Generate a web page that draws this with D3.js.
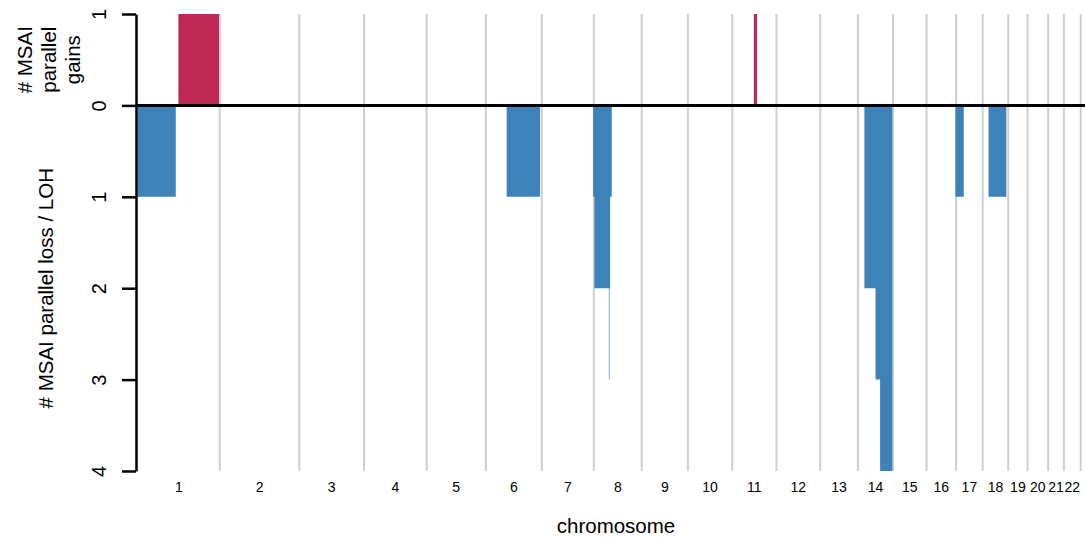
<!DOCTYPE html>
<html>
<head>
<meta charset="utf-8">
<script src="https://cdn.jsdelivr.net/npm/d3@7"></script>
<style>
  html, body { margin: 0; padding: 0; background: #ffffff; }
  svg { display: block; font-family: "Liberation Sans", Arial, Helvetica, sans-serif; }
</style>
</head>
<body>
<svg id="chart" width="1085" height="538"></svg>
<script>
// Chromosome names and lengths (Mb, hg19)
const chromosomes = ["1","2","3","4","5","6","7","8","9","10","11","12","13","14","15","16","17","18","19","20","21","22"];
const chromLengthsMb = [249.25, 243.2, 198.0, 191.15, 180.9, 171.1, 159.1, 146.4, 141.2, 135.5, 135.0, 133.9, 115.2, 107.3, 102.5, 90.4, 81.2, 78.1, 59.1, 63.0, 48.1, 51.3];

// Parallel gains: chromosome, segment start/end (Mb within chromosome), count
const gainChrom = ["1", "11"];
const gainStart = [125, 68];
const gainEnd   = [249.25, 78];
const gainCount = [1, 1];

// Parallel loss / LOH segments
const lossChrom = ["1", "6", "8", "8", "8", "8", "8", "14", "14", "14", "17", "18"];
const lossStart = [0,   66,  0,   4,   48,  50,  52,  22,   56,   70,   0,    20];
const lossEnd   = [117, 168, 4,   48,  50,  52,  57,  56,   70,   107.3, 25.5, 74.5];
const lossCount = [1,   1,   1,   2,   3,   2,   1,   2,    3,    4,    1,    1];

// Y axis ticks (gains positive, losses negative) and their labels
const yTickValues = [1, 0, -1, -2, -3, -4];
const yTickLabels = ["1", "0", "1", "2", "3", "4"];

const W = 1085, H = 538;
const plotLeft = 137.5, plotRight = 1080, plotTop = 14, plotBottom = 471;
const gainColor = "#be2a55";
const lossColor = "#3d82b9";

const svg = d3.select("#chart");

const offsets = [0, ...d3.cumsum(chromLengthsMb)];
const total = offsets[offsets.length - 1];
const chromIndex = new Map(chromosomes.map((c, i) => [c, i]));
const genomePos = (chr, mb) => offsets[chromIndex.get(chr)] + mb;

const x = d3.scaleLinear().domain([0, total]).range([plotLeft, plotRight]);
const y = d3.scaleLinear().domain([1, -4]).range([plotTop, plotBottom]);

// Chromosome boundary lines
svg.append("g")
  .selectAll("line")
  .data(offsets.slice(1))
  .join("line")
  .attr("x1", d => x(d) + 0.7).attr("x2", d => x(d) + 0.7)
  .attr("y1", y(1)).attr("y2", y(-4))
  .attr("stroke", "#cfcfcf")
  .attr("stroke-width", 2);

// Build step-shaped areas, one per chromosome, from segment arrays
function stepGroups(chroms, starts, ends, counts, sign) {
  const groups = d3.group(d3.range(chroms.length), i => chroms[i]);
  const out = [];
  for (const [chr, idx] of groups) {
    const pts = [];
    idx.sort((a, b) => starts[a] - starts[b]);
    for (const i of idx) {
      pts.push({ pos: genomePos(chr, starts[i]), v: sign * counts[i] });
      pts.push({ pos: genomePos(chr, ends[i]), v: sign * counts[i] });
    }
    out.push(pts);
  }
  return out;
}

const area = d3.area()
  .x(d => x(d.pos))
  .y0(y(0))
  .y1(d => y(d.v));

svg.append("g")
  .selectAll("path")
  .data(stepGroups(gainChrom, gainStart, gainEnd, gainCount, 1))
  .join("path")
  .attr("d", area)
  .attr("fill", gainColor);

svg.append("g")
  .selectAll("path")
  .data(stepGroups(lossChrom, lossStart, lossEnd, lossCount, -1))
  .join("path")
  .attr("d", area)
  .attr("fill", lossColor);

// Zero line
svg.append("line")
  .attr("x1", 136).attr("x2", W)
  .attr("y1", y(0)).attr("y2", y(0))
  .attr("stroke", "#000").attr("stroke-width", 3);

// Y axis
const yAxis = d3.axisLeft(y)
  .tickValues(yTickValues)
  .tickFormat((d, i) => yTickLabels[i])
  .tickSize(14)
  .tickSizeOuter(0);

const yAxisG = svg.append("g")
  .attr("transform", "translate(136,0)")
  .call(yAxis);

yAxisG.select(".domain").attr("stroke", "#000").attr("stroke-width", 2.5);
yAxisG.selectAll(".tick line").attr("stroke", "#000").attr("stroke-width", 2.5);
yAxisG.selectAll(".tick text")
  .attr("transform", "rotate(-90)")
  .attr("x", 0)
  .attr("y", -30)
  .attr("dy", 0)
  .attr("text-anchor", "middle")
  .attr("font-size", 20)
  .attr("font-family", "Liberation Sans, Arial, sans-serif")
  .attr("fill", "#000");

// Chromosome labels
svg.append("g")
  .selectAll("text")
  .data(chromosomes)
  .join("text")
  .attr("x", (d, i) => x(offsets[i] + chromLengthsMb[i] / 2) + 0.7)
  .attr("y", 492)
  .attr("text-anchor", "middle")
  .attr("font-size", 14)
  .attr("fill", "#000")
  .text(d => d);

// Axis titles
svg.append("text")
  .attr("x", 616).attr("y", 533)
  .attr("text-anchor", "middle")
  .attr("font-size", 20.5)
  .text("chromosome");

const gainTitle = ["# MSAI", "parallel", "gains"];
const gainBaselines = [32, 56, 80];
svg.append("g")
  .selectAll("text")
  .data(gainTitle)
  .join("text")
  .attr("transform", (d, i) => `translate(${gainBaselines[i]},${(y(1) + y(0)) / 2}) rotate(-90)`)
  .attr("text-anchor", "middle")
  .attr("font-size", 20.5)
  .text(d => d);

svg.append("text")
  .attr("transform", `translate(53,${(y(0) + y(-4)) / 2}) rotate(-90)`)
  .attr("text-anchor", "middle")
  .attr("font-size", 20.5)
  .text("# MSAI parallel loss / LOH");
</script>
</body>
</html>
